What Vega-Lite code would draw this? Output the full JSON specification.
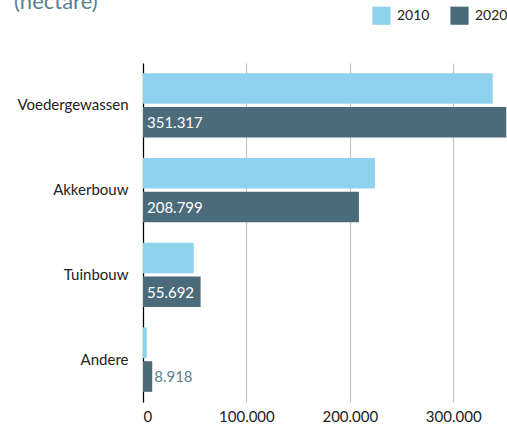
{
  "$schema": "https://vega.github.io/schema/vega-lite/v6.json",
  "width": 364,
  "height": 339,
  "autosize": {"type": "none"},
  "padding": {"left": 143, "top": 63, "right": 0, "bottom": 24},
  "background": "white",
  "config": {
    "locale": {"number": {"decimal": ",", "thousands": ".", "grouping": [3], "currency": ["€", ""]}},
    "font": "Lato",
    "view": {"stroke": null}
  },
  "title": {
    "text": "(hectare)",
    "anchor": "start",
    "frame": "group",
    "dx": -129,
    "offset": -25,
    "baseline": "alphabetic",
    "fontSize": 22,
    "fontWeight": "normal",
    "color": "#5a8191",
    "font": "Lato"
  },
  "data": {
    "values": [
      {"categorie": "Voedergewassen", "jaar": "2010", "hectare": 338200},
      {"categorie": "Voedergewassen", "jaar": "2020", "hectare": 351317},
      {"categorie": "Akkerbouw", "jaar": "2010", "hectare": 224300},
      {"categorie": "Akkerbouw", "jaar": "2020", "hectare": 208799},
      {"categorie": "Tuinbouw", "jaar": "2010", "hectare": 49100},
      {"categorie": "Tuinbouw", "jaar": "2020", "hectare": 55692},
      {"categorie": "Andere", "jaar": "2010", "hectare": 3600},
      {"categorie": "Andere", "jaar": "2020", "hectare": 8918}
    ]
  },
  "encoding": {
    "y": {
      "field": "categorie",
      "type": "nominal",
      "sort": ["Voedergewassen", "Akkerbouw", "Tuinbouw", "Andere"],
      "scale": {"paddingInner": 0.24, "paddingOuter": 0.12},
      "axis": {
        "title": null,
        "ticks": false,
        "labelPadding": 15,
        "labelFontSize": 15,
        "labelColor": "#222222",
        "labelFont": "Lato",
        "domainColor": "#000000",
        "domainWidth": 1.2
      }
    },
    "yOffset": {
      "field": "jaar",
      "type": "nominal",
      "scale": {"paddingInner": 0.09}
    }
  },
  "layer": [
    {
      "mark": {"type": "bar"},
      "encoding": {
        "x": {
          "field": "hectare",
          "type": "quantitative",
          "scale": {"domain": [0, 352000], "nice": false},
          "axis": {
            "title": null,
            "values": [0, 100000, 200000, 300000],
            "format": ",d",
            "domain": false,
            "ticks": false,
            "grid": true,
            "gridColor": "#c4c4c4",
            "gridWidth": 1.2,
            "labelPadding": 7,
            "labelFontSize": 15,
            "labelColor": "#222222",
            "labelFont": "Lato"
          }
        },
        "color": {
          "field": "jaar",
          "type": "nominal",
          "scale": {"domain": ["2010", "2020"], "range": ["#8fd2ee", "#4c6b7a"]},
          "legend": {
            "title": null,
            "orient": "none",
            "legendX": 229,
            "legendY": -57,
            "direction": "horizontal",
            "symbolType": "square",
            "symbolSize": 330,
            "symbolStrokeWidth": 0,
            "labelFontSize": 14,
            "labelColor": "#222222",
            "labelFont": "Lato",
            "labelOffset": 6,
            "columnPadding": 20
          }
        }
      }
    },
    {
      "transform": [{"filter": "datum.jaar == '2020' && datum.hectare > 20000"}],
      "mark": {"type": "text", "align": "left", "baseline": "middle", "dx": 4, "dy": 1, "fontSize": 15, "color": "#ffffff", "font": "Lato"},
      "encoding": {
        "x": {"datum": 0, "type": "quantitative"},
        "text": {"field": "hectare", "type": "quantitative", "format": ",d"}
      }
    },
    {
      "transform": [{"filter": "datum.jaar == '2020' && datum.hectare <= 20000"}],
      "mark": {"type": "text", "align": "left", "baseline": "middle", "dx": 2, "dy": 1, "fontSize": 15, "color": "#5d7f8f", "font": "Lato"},
      "encoding": {
        "x": {"field": "hectare", "type": "quantitative"},
        "text": {"field": "hectare", "type": "quantitative", "format": ",d"}
      }
    }
  ]
}
